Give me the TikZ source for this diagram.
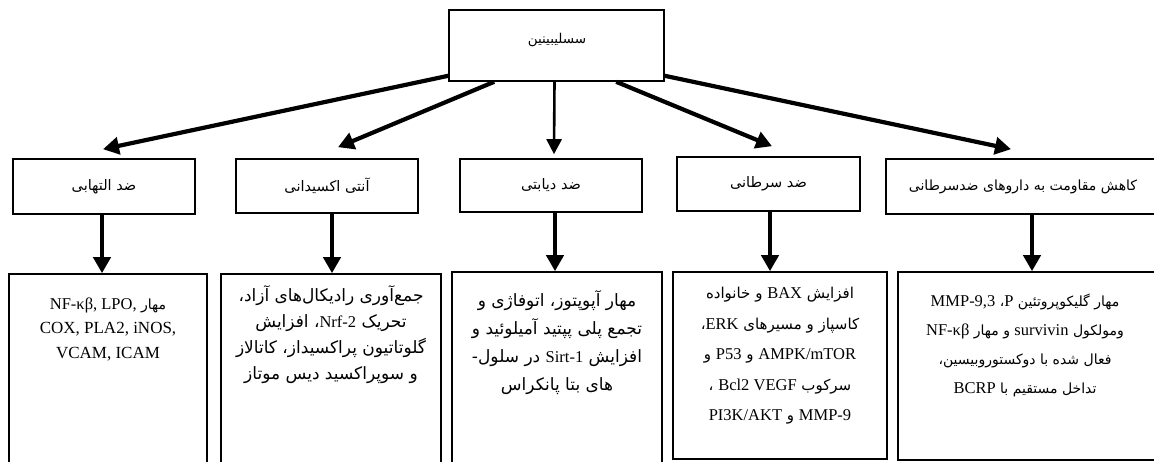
\documentclass[tikz,border=0pt]{standalone}
\usepackage{fontspec}
\setmainfont{Liberation Serif}
\newfontfamily\fa[Script=Arabic]{DejaVu Sans}
\newfontfamily\lat{Liberation Serif}
\TeXXeTstate=1
\usetikzlibrary{arrows.meta}
\newcommand\LT[1]{\beginL{\lat\fontsize{16.5}{20}\selectfont #1}\endL}
\newcommand\LL[1]{{\lat\fontsize{17}{20}\selectfont #1}}
\tikzset{
  box/.style={draw, line width=1.6pt, inner sep=0pt},
  arr/.style={-{Triangle[length=16pt,width=17pt]}, line width=4.2pt},
  thinarr/.style={-{Triangle[length=15pt,width=15pt]}, line width=2.6pt},
  lbl/.style={font=\fa\fontsize{14.5}{26}\selectfont, align=center, inner sep=0pt},
}
\begin{document}
\begin{tikzpicture}[x=1pt,y=-1pt]
\useasboundingbox[fill=white] (0,0) rectangle (1154,462);
% top box
\node[box, minimum width=215pt, minimum height=71pt] (top) at (556.5,45.5) {};
\node[lbl, font=\fa\fontsize{13.5}{20}\selectfont] (topt) at (557,40) {\beginR سسلیبینین\endR};
% second row
\node[box, lbl, minimum width=182pt, minimum height=55pt] (b1) at (104,186.5) {\beginR ضد التهابی\endR};
\node[box, lbl, minimum width=182pt, minimum height=54pt] (b2) at (327,186) {\beginR آنتی اکسیدانی\endR};
\node[box, lbl, minimum width=182pt, minimum height=53pt] (b3) at (551,185.5) {\beginR ضد دیابتی\endR};
\node[box, lbl, minimum width=183pt, minimum height=54pt] (b4) at (768.5,184) {\beginR ضد سرطانی\endR};
\node[box, lbl, font=\fa\fontsize{14}{20}\selectfont, minimum width=274pt, minimum height=55pt] (b5) at (1023,186.5) {\beginR کاهش مقاومت به داروهای ضدسرطانی\endR};
% third row boxes
\node[box, minimum width=198pt, minimum height=206pt] (c1) at (108,377) {};
\node[box, minimum width=220pt, minimum height=206pt] (c2) at (331,377) {};
\node[box, minimum width=210pt, minimum height=208pt] (c3) at (557,376) {};
\node[box, minimum width=214pt, minimum height=187pt] (c4) at (780,365.5) {};
\node[box, minimum width=264pt, minimum height=188pt] (c5) at (1030,366) {};
% third row texts
\node[lbl, anchor=north, font=\fa\fontsize{14}{24.5}\selectfont] (c1t) at ([yshift=-24pt]c1.north) {%
\beginR مهار \LT{NF-κβ, LPO,}\endR\\
\LL{COX, PLA2, iNOS,}\\
\LL{VCAM, ICAM}};
\node[lbl, anchor=north, font=\fa\fontsize{17}{26}\selectfont] (c2t) at ([yshift=-12pt]c2.north) {%
\beginR جمع‌آوری رادیکال‌های آزاد،\endR\\
\beginR تحریک \LT{Nrf-2}، افزایش\endR\\
\beginR گلوتاتیون پراکسیداز، کاتالاز\endR\\
\beginR و سوپراکسید دیس موتاز\endR};
\node[lbl, anchor=north, font=\fa\fontsize{17}{28}\selectfont] (c3t) at ([yshift=-19pt]c3.north) {%
\beginR مهار آپوپتوز، اتوفاژی و\endR\\
\beginR تجمع پلی پپتید آمیلوئید و\endR\\
\beginR افزایش \LT{Sirt-1} در سلول\kern0pt-\endR\\
\beginR های بتا پانکراس\endR};
\node[lbl, anchor=north, font=\fa\fontsize{15}{30.5}\selectfont] (c4t) at ([yshift=-16pt]c4.north) {%
\beginR افزایش \LT{BAX} و خانواده\endR\\
\beginR کاسپاز و مسیرهای \LT{ERK}،\endR\\
\beginR \LT{AMPK/mTOR} و \LT{P53} و\endR\\
\beginR سرکوب \LT{Bcl2 VEGF} ،\endR\\
\beginR \LT{MMP-9} و \LT{PI3K/AKT}\endR};
\node[lbl, anchor=north, font=\fa\fontsize{14}{29}\selectfont] (c5t) at ([xshift=-5pt,yshift=-23pt]c5.north) {%
\beginR مهار گلیکوپروتئین \LT{P}، \LT{MMP-9,3}\endR\\
\beginR ومولکول \LT{survivin} و مهار \LT{NF-κβ}\endR\\
\beginR فعال شده با دوکستوروبیسین،\endR\\
\beginR تداخل مستقیم با \LT{BCRP}\endR};
% arrows from top
\draw[arr] ([yshift=6pt]top.south west) -- ([xshift=-1pt,yshift=9pt]b1.north);
\draw[arr] ([xshift=46pt]top.south west) -- ([xshift=11pt,yshift=11pt]b2.north);
\draw[thinarr] ([xshift=-2pt]top.south) -- ([xshift=3pt,yshift=4pt]b3.north);
\draw[arr] ([xshift=168pt]top.south west) -- ([xshift=3.5pt,yshift=10pt]b4.north);
\draw[arr] ([yshift=6pt]top.south east) -- ([xshift=-12pt,yshift=9pt]b5.north);
% vertical arrows
\draw[arr] ([xshift=-2pt]b1.south) -- ([xshift=-2pt]b1.south |- c1.north);
\draw[arr] ([xshift=5pt]b2.south) -- ([xshift=5pt]b2.south |- c2.north);
\draw[arr] ([xshift=4pt]b3.south) -- ([xshift=4pt]b3.south |- c3.north);
\draw[arr] ([xshift=1.5pt]b4.south) -- ([xshift=1.5pt]b4.south |- c4.north);
\draw[arr] ([xshift=9pt]b5.south) -- ([xshift=9pt]b5.south |- c5.north);
\end{tikzpicture}
\end{document}
